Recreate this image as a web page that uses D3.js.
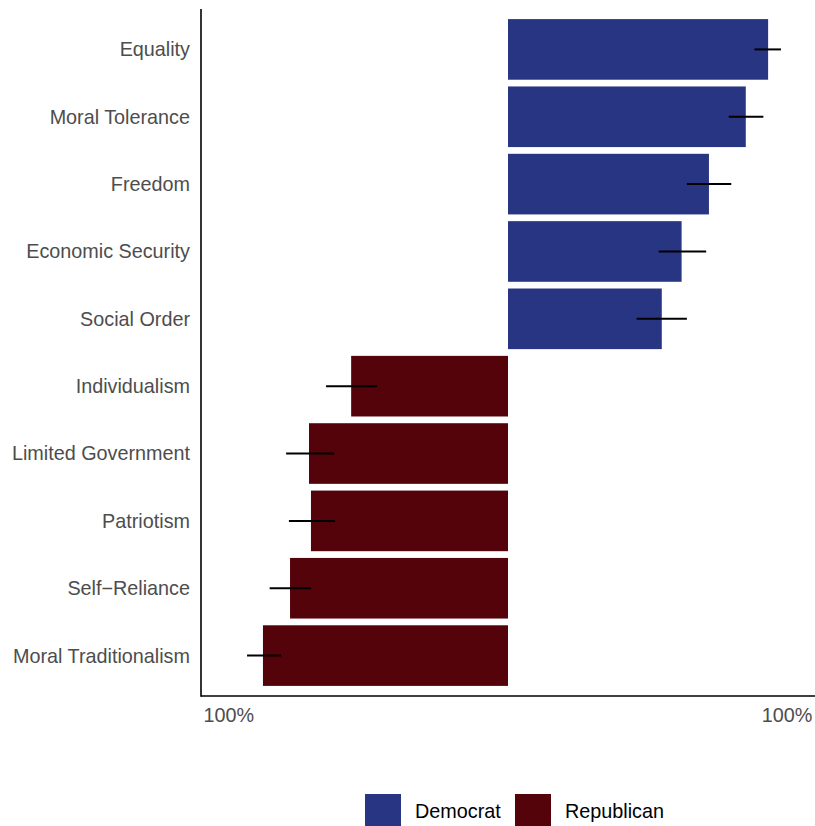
<!DOCTYPE html>
<html><head><meta charset="utf-8">
<script src="https://cdn.jsdelivr.net/npm/d3@7"></script>
<style>body{margin:0;background:#fff}svg{display:block}text{font-family:"Liberation Sans",Arial,sans-serif}</style>
</head><body><div id="chart"></div>
<script>
const categories = ["Equality","Moral Tolerance","Freedom","Economic Security","Social Order","Individualism","Limited Government","Patriotism","Self\u2212Reliance","Moral Traditionalism"];
const party = ["Democrat","Democrat","Democrat","Democrat","Democrat","Republican","Republican","Republican","Republican","Republican"];
const values = [0.932,0.852,0.720,0.622,0.551,-0.562,-0.713,-0.706,-0.781,-0.878];
const errLow = [0.883,0.791,0.641,0.540,0.461,-0.652,-0.795,-0.785,-0.854,-0.935];
const errHigh = [0.978,0.915,0.800,0.710,0.641,-0.469,-0.623,-0.620,-0.706,-0.813];
const tickValues = [-1,1];
const tickLabels = ["100%","100%"];
const legendLabels = ["Democrat","Republican"];
const colors = {Democrat:"#283582",Republican:"#55030a"};

(function(){
const W=815,H=826;
const svg=d3.select("#chart").append("svg").attr("width",W).attr("height",H);
const pL=201,pR=815,pT=9,pB=696;
const fs=19.8;
const x=d3.scaleLinear().domain([-1.1,1.1]).range([pL,pR]);
const y=d3.scaleBand().domain(categories).range([pT,pB]).paddingInner(0.1).paddingOuter(0.15);

const data=categories.map((c,i)=>({c,p:party[i],v:values[i],lo:errLow[i],hi:errHigh[i]}));
svg.append("g").selectAll("rect").data(data).join("rect")
  .attr("x",d=>x(Math.min(0,d.v))).attr("width",d=>Math.abs(x(d.v)-x(0)))
  .attr("y",d=>y(d.c)).attr("height",y.bandwidth()).attr("fill",d=>colors[d.p]);
svg.append("g").selectAll("line").data(data).join("line")
  .attr("x1",d=>x(d.lo)).attr("x2",d=>x(d.hi))
  .attr("y1",d=>y(d.c)+y.bandwidth()/2).attr("y2",d=>y(d.c)+y.bandwidth()/2)
  .attr("stroke","#000").attr("stroke-width",2);

svg.append("line").attr("x1",pL).attr("x2",pL).attr("y1",pT).attr("y2",pB+0.8).attr("stroke","#000").attr("stroke-width",1.6);
svg.append("line").attr("x1",pL).attr("x2",pR).attr("y1",pB).attr("y2",pB).attr("stroke","#000").attr("stroke-width",1.6);

svg.append("g").selectAll("text").data(categories).join("text")
  .attr("x",190).attr("y",d=>y(d)+y.bandwidth()/2).attr("dy","0.35em")
  .attr("text-anchor","end").attr("font-size",fs).attr("fill","#4d4d4d").text(d=>d);
svg.append("g").selectAll("text").data(tickValues).join("text")
  .attr("x",d=>x(d)).attr("y",715).attr("dy","0.35em")
  .attr("text-anchor","middle").attr("font-size",fs).attr("fill","#4d4d4d").text((d,i)=>tickLabels[i]);

const lg=svg.append("g");
const lx=[365,515];
legendLabels.forEach((l,i)=>{
  lg.append("rect").attr("x",lx[i]).attr("y",794).attr("width",36).attr("height",34).attr("fill",colors[l]);
  lg.append("text").attr("x",lx[i]+50).attr("y",811).attr("dy","0.35em").attr("font-size",fs).attr("fill","#000").text(l);
});
})();
</script></body></html>
